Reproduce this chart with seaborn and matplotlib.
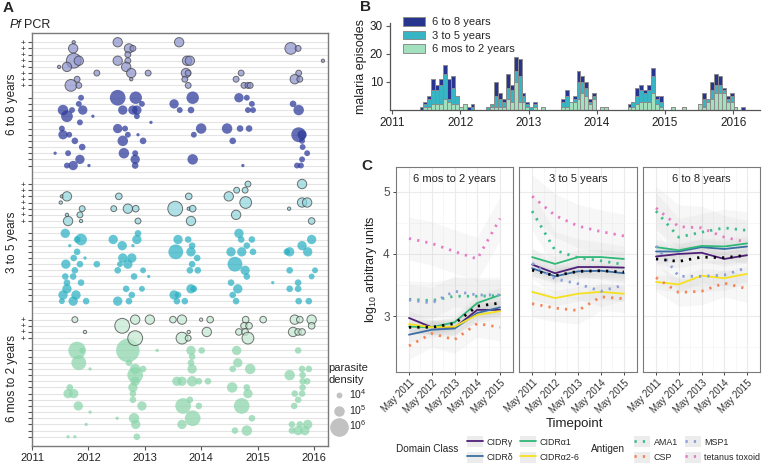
import numpy as np
import pandas as pd
import seaborn as sns
import matplotlib
matplotlib.use("Agg")
import matplotlib.pyplot as plt
from matplotlib.lines import Line2D
from matplotlib.patches import Patch
from matplotlib.transforms import blended_transform_factory

sns.set_style("white")
plt.rcParams['font.family'] = ['Liberation Sans', 'DejaVu Sans']
plt.rcParams['mathtext.default'] = 'regular'

# ---------------- Panel A data: (time, subject row, log10 parasite density) ----------------
old_points = [
    (2011.74, 0, 3.0), (2012.52, 0, 4.8), (2013.61, 0, 4.8),
    (2011.73, 1, 4.8), (2012.72, 1, 4.8), (2012.79, 1, 4.0), (2015.59, 1, 5.2), (2015.72, 1, 4.0),
    (2012.70, 2, 4.0),
    (2011.74, 3, 5.6), (2011.83, 3, 4.8), (2012.52, 3, 4.8), (2012.70, 3, 4.0), (2013.75, 3, 4.8),
    (2013.80, 3, 4.8), (2016.16, 3, 3.0),
    (2011.48, 4, 3.0), (2011.62, 4, 4.8), (2012.67, 4, 4.8),
    (2012.15, 5, 4.0), (2012.76, 5, 4.8), (2013.06, 5, 4.0), (2013.73, 5, 4.8), (2013.77, 5, 4.0),
    (2014.71, 5, 4.0), (2015.73, 5, 4.0),
    (2011.80, 6, 4.0), (2012.76, 6, 3.0), (2013.71, 6, 4.0), (2014.62, 6, 4.0), (2015.66, 6, 4.8),
    (2015.75, 6, 4.0),
    (2011.69, 7, 5.2), (2011.83, 7, 4.0), (2013.77, 7, 4.0), (2014.76, 7, 4.0), (2014.83, 7, 4.0),
    (2014.87, 7, 4.0),
    (2011.87, 9, 4.0), (2012.52, 9, 5.7), (2012.84, 9, 5.3), (2013.85, 9, 5.3), (2014.67, 9, 4.8),
    (2014.81, 9, 4.0),
    (2014.90, 10, 4.0), (2011.83, 10, 4.0), (2012.95, 10, 4.0), (2013.52, 10, 4.8), (2015.63, 10, 4.2),
    (2011.55, 11, 5.0), (2011.71, 11, 4.0), (2011.90, 11, 4.8), (2012.61, 11, 4.8), (2012.79, 11, 4.8),
    (2012.86, 11, 4.8), (2013.62, 11, 4.0), (2013.82, 11, 4.2), (2014.83, 11, 4.0), (2014.92, 11, 4.0),
    (2015.73, 11, 5.0),
    (2011.62, 12, 5.2), (2012.08, 12, 3.0), (2012.86, 12, 4.0),
    (2011.85, 13, 4.0), (2013.11, 13, 3.0),
    (2011.53, 14, 4.0), (2012.52, 14, 4.8), (2012.65, 14, 4.0), (2014.00, 14, 5.0), (2014.46, 14, 5.0),
    (2014.69, 14, 4.2), (2014.85, 14, 4.2),
    (2011.55, 15, 4.8), (2011.66, 15, 4.0), (2012.70, 15, 4.0), (2012.88, 15, 3.0), (2013.87, 15, 4.0),
    (2015.73, 15, 5.6), (2015.79, 15, 4.8),
    (2011.76, 16, 4.2), (2012.61, 16, 5.0), (2012.97, 16, 4.2), (2014.56, 16, 4.2), (2015.79, 16, 4.0),
    (2011.89, 17, 4.2), (2015.80, 17, 4.0),
    (2011.41, 18, 3.0), (2011.64, 18, 4.0), (2012.63, 18, 5.0), (2012.83, 18, 4.0), (2015.88, 18, 4.0),
    (2011.85, 19, 4.8), (2012.83, 19, 4.8), (2013.85, 19, 5.0), (2015.79, 19, 4.0),
    (2011.62, 20, 4.0), (2011.73, 20, 4.8), (2012.01, 20, 3.0), (2012.83, 20, 4.2), (2014.74, 20, 3.0),
    (2015.70, 20, 4.0), (2015.77, 20, 4.0),
]

mid_points = [
    (2014.83, 23, 4.0), (2015.79, 23, 4.8),
    (2014.63, 24, 4.0), (2014.78, 24, 4.0),
    (2011.53, 25, 3.0), (2011.62, 25, 4.8), (2012.54, 25, 4.2), (2013.78, 25, 4.2), (2014.49, 25, 4.8),
    (2011.51, 26, 3.0), (2014.79, 26, 5.2), (2015.79, 26, 4.8), (2015.88, 26, 4.8),
    (2011.89, 27, 4.0), (2012.45, 27, 4.0), (2012.70, 27, 4.8), (2012.84, 27, 4.2), (2013.54, 27, 5.6),
    (2013.78, 27, 3.0), (2013.85, 27, 4.2), (2015.56, 27, 3.0),
    (2011.62, 28, 3.0), (2011.85, 28, 4.0), (2014.62, 28, 4.8),
    (2011.64, 29, 4.8), (2011.87, 29, 3.0), (2012.88, 29, 4.0), (2013.82, 29, 4.8), (2015.96, 29, 4.2),
    (2011.59, 31, 4.8), (2012.88, 31, 4.2), (2014.67, 31, 4.8),
    (2011.87, 32, 5.2), (2011.80, 32, 4.2), (2012.44, 32, 4.8), (2012.86, 32, 4.8), (2013.59, 32, 4.8),
    (2013.77, 32, 4.2), (2014.71, 32, 4.2), (2014.90, 32, 4.2), (2015.96, 32, 4.8),
    (2011.67, 33, 3.0), (2012.60, 33, 4.8), (2012.79, 33, 3.0), (2013.84, 33, 4.2), (2014.81, 33, 4.2),
    (2015.79, 33, 4.8),
    (2011.80, 34, 4.2), (2013.55, 34, 5.6), (2013.82, 34, 4.8), (2014.53, 34, 4.8), (2014.72, 34, 4.8),
    (2014.92, 34, 4.2), (2015.57, 34, 4.8), (2015.89, 34, 4.8), (2015.52, 34, 4.2),
    (2011.74, 35, 4.2), (2011.94, 35, 3.0), (2012.61, 35, 4.8), (2012.77, 35, 4.8), (2013.93, 35, 4.2),
    (2011.60, 36, 4.8), (2011.85, 36, 4.2), (2012.15, 36, 4.2), (2012.56, 36, 4.0), (2012.70, 36, 4.8),
    (2013.84, 36, 4.2), (2014.60, 36, 5.6),
    (2011.76, 37, 4.2), (2012.52, 37, 4.2), (2012.97, 37, 4.0), (2013.80, 37, 4.2), (2013.94, 37, 4.2),
    (2014.78, 37, 4.8), (2015.57, 37, 4.2), (2016.02, 37, 4.0),
    (2011.59, 38, 4.2), (2011.73, 38, 4.2), (2012.81, 38, 4.2), (2013.07, 38, 3.0), (2014.81, 38, 4.2),
    (2015.96, 38, 4.0),
    (2011.62, 39, 4.2), (2011.87, 39, 4.2), (2014.53, 39, 4.2), (2015.27, 39, 3.0), (2015.72, 39, 4.2),
    (2011.62, 40, 4.8), (2012.67, 40, 4.2), (2012.95, 40, 4.0), (2013.82, 40, 4.8), (2013.87, 40, 4.2),
    (2014.65, 40, 4.8), (2015.57, 40, 4.2), (2015.72, 40, 4.2),
    (2011.55, 41, 4.8), (2011.78, 41, 4.8), (2012.77, 41, 4.2), (2013.52, 41, 4.8), (2013.59, 41, 4.2),
    (2014.56, 41, 4.2),
    (2011.53, 42, 4.0), (2011.73, 42, 4.8), (2011.96, 42, 4.2), (2012.52, 42, 4.8), (2012.72, 42, 4.2),
    (2013.57, 42, 4.2), (2013.71, 42, 4.2), (2014.62, 42, 4.2), (2015.73, 42, 4.2), (2015.91, 42, 4.2),
]

young_points = [
    (2011.76, 45, 4.0), (2012.83, 45, 4.8), (2013.09, 45, 4.8), (2013.50, 45, 4.2), (2013.66, 45, 4.8),
    (2014.00, 45, 3.0), (2014.16, 45, 4.2), (2014.79, 45, 4.2), (2015.10, 45, 4.2), (2015.66, 45, 4.8),
    (2015.75, 45, 4.2), (2015.96, 45, 4.8),
    (2012.60, 46, 5.6), (2014.76, 46, 4.2), (2014.85, 46, 4.2), (2015.96, 46, 4.2),
    (2011.94, 47, 3.0), (2013.78, 47, 3.0), (2014.10, 47, 4.8), (2014.67, 47, 4.2), (2014.78, 47, 4.2),
    (2015.63, 47, 4.8), (2015.72, 47, 4.2), (2015.79, 47, 4.2),
    (2012.83, 48, 5.6), (2013.66, 48, 5.2), (2013.77, 48, 4.0), (2014.83, 48, 5.2),
    (2011.80, 50, 5.9), (2011.89, 50, 4.0), (2012.70, 50, 6.4), (2013.22, 50, 3.0), (2013.82, 50, 4.8),
    (2014.01, 50, 4.2), (2014.63, 50, 4.8), (2015.72, 50, 4.2),
    (2013.84, 51, 4.2),
    (2011.83, 52, 5.6), (2012.72, 52, 4.2), (2013.82, 52, 4.2), (2014.65, 52, 4.8),
    (2012.03, 53, 3.0), (2012.83, 53, 5.0), (2012.97, 53, 4.2), (2013.84, 53, 4.8), (2014.56, 53, 4.2),
    (2014.87, 53, 5.0), (2015.79, 53, 4.2), (2015.91, 53, 4.2),
    (2012.83, 54, 5.7), (2015.57, 54, 5.0), (2015.80, 54, 4.2),
    (2012.83, 55, 4.8), (2013.57, 55, 4.8), (2013.66, 55, 4.8), (2013.84, 55, 5.0), (2013.96, 55, 4.2),
    (2014.12, 55, 4.2), (2015.80, 55, 4.2), (2015.88, 55, 4.2),
    (2011.67, 56, 4.2), (2012.79, 56, 4.8), (2014.55, 56, 5.0), (2014.81, 56, 4.2), (2015.80, 56, 4.2),
    (2011.64, 57, 4.8), (2011.74, 57, 4.8), (2012.79, 57, 4.2), (2014.83, 57, 4.8), (2015.66, 57, 4.2),
    (2015.79, 57, 4.2),
    (2012.79, 58, 4.2), (2013.80, 58, 4.2), (2015.72, 58, 4.2),
    (2011.82, 59, 4.8), (2012.95, 59, 4.8), (2013.68, 59, 5.7), (2013.96, 59, 4.2), (2014.72, 59, 5.7),
    (2015.65, 59, 4.2),
    (2012.03, 60, 3.0),
    (2012.51, 61, 3.0), (2012.81, 61, 5.0), (2013.85, 61, 5.7), (2014.90, 61, 4.2),
    (2011.96, 62, 3.0), (2012.84, 62, 4.8), (2013.66, 62, 4.8), (2015.61, 62, 4.2), (2015.75, 62, 4.2),
    (2015.89, 62, 4.8),
    (2014.60, 63, 4.2), (2014.81, 63, 5.0), (2015.61, 63, 4.2), (2015.72, 63, 4.8), (2015.84, 63, 4.8),
    (2011.64, 64, 3.0), (2011.76, 64, 3.0), (2012.86, 64, 4.2),
]

pcr_pos_rows = list(range(0, 8)) + list(range(23, 30)) + list(range(45, 49))
pcr_neg_rows = list(range(9, 21)) + list(range(31, 43)) + list(range(50, 65))
group_labels = ["6 to 8 years", "3 to 5 years", "6 mos to 2 years"]
group_centers = [10, 32.5, 54.5]
year_ticks = [2011, 2012, 2013, 2014, 2015, 2016]
density_levels = [4, 5, 6]
density_labels = ["10$^{4}$", "10$^{5}$", "10$^{6}$"]

# ---------------- Panel B data: 21-day bins, counts by age group ----------------
BIN = 21 / 365.25
N_BINS = 96
b_bin = [7, 8, 9, 10, 11, 12, 13, 14, 15, 16, 17, 18, 19, 20,
         24, 25, 26, 27, 28, 29, 30, 31, 32, 33, 34, 35, 36, 38,
         43, 44, 45, 46, 47, 48, 49, 50, 51, 53, 54,
         60, 61, 62, 63, 64, 65, 66, 67, 68, 71, 74,
         78, 79, 80, 81, 82, 83, 84, 85, 86, 87, 89]
b_young = [0, 1, 1, 2, 2, 2, 4, 3, 2, 2, 1, 2, 0, 0,
           0, 1, 1, 1, 1, 4, 3, 10, 3, 3, 1, 0, 1, 1,
           1, 1, 3, 3, 4, 6, 5, 2, 4, 1, 1,
           1, 1, 2, 3, 3, 3, 6, 2, 1, 1, 1,
           2, 1, 3, 4, 6, 6, 6, 3, 3, 1, 0]
b_mid = [0, 1, 3, 5, 5, 7, 9, 1, 6, 3, 0, 0, 0, 1,
         1, 1, 4, 3, 2, 4, 4, 4, 9, 2, 1, 1, 1, 0,
         2, 4, 0, 1, 6, 4, 3, 1, 1, 0, 0,
         0, 2, 3, 4, 3, 4, 6, 2, 2, 0, 0,
         0, 3, 1, 3, 3, 3, 1, 1, 2, 0, 0]
b_old = [1, 1, 1, 4, 2, 2, 3, 7, 4, 0, 0, 0, 1, 1,
         0, 0, 5, 2, 1, 5, 2, 5, 6, 1, 1, 0, 1, 0,
         1, 2, 0, 1, 4, 2, 2, 1, 1, 0, 0,
         1, 0, 3, 2, 1, 2, 3, 1, 2, 0, 0,
         0, 2, 0, 3, 4, 3, 1, 1, 1, 0, 1]

# ---------------- Panel C data ----------------
timepoints = ["May 2011", "May 2012", "May 2013", "May 2014", "May 2015"]
facets = ["6 mos to 2 years", "3 to 5 years", "6 to 8 years"]
cidr_gamma = [[2.97, 2.82, 2.81, 3.10, 3.10], [3.83, 3.69, 3.79, 3.79, 3.78], [3.96, 4.00, 4.02, 3.92, 3.98]]
cidr_delta = [[2.70, 2.78, 2.80, 3.05, 3.14], [3.77, 3.64, 3.72, 3.73, 3.69], [4.04, 4.04, 4.11, 4.08, 4.12]]
cidr_a1 = [[2.83, 2.82, 2.90, 3.21, 3.34], [3.95, 3.84, 3.95, 3.95, 3.92], [4.11, 4.06, 4.13, 4.12, 4.17]]
cidr_a26 = [[2.87, 2.82, 2.83, 3.02, 3.08], [3.39, 3.29, 3.36, 3.39, 3.36], [3.55, 3.51, 3.65, 3.61, 3.68]]
overall = [[2.82, 2.82, 2.88, 3.16, 3.21], [3.74, 3.65, 3.72, 3.73, 3.71], [3.92, 3.88, 3.95, 3.94, 3.98]]
ama1 = [[3.27, 3.25, 3.32, 3.32, 3.33], [4.69, 4.06, 3.94, 3.89, 3.83], [4.69, 4.27, 4.35, 4.42, 4.38]]
csp = [[2.52, 2.72, 2.62, 2.88, 2.82], [3.20, 3.13, 3.09, 3.31, 3.28], [3.62, 3.38, 3.40, 3.53, 3.44]]
msp1 = [[3.26, 3.21, 3.40, 3.34, 3.34], [3.85, 3.60, 3.52, 3.40, 3.50], [4.13, 3.64, 3.64, 3.66, 3.78]]
tetanus = [[4.25, 4.17, 4.04, 3.92, 4.57], [4.93, 4.62, 4.45, 4.36, 4.29], [4.74, 4.44, 4.42, 4.27, 4.19]]
# half-width of the grey confidence ribbons
ribbon_hw = {"CIDRγ": 0.12, "CIDRδ": 0.12, "CIDRα1": 0.12, "CIDRα2-6": 0.12, "all": 0.10,
             "AMA1": 0.30, "CSP": 0.22, "MSP1": 0.25, "tetanus toxoid": 0.35}

# ---------------- figure ----------------
W, H = 764, 467
fig = plt.figure(figsize=(W / 100, H / 100), dpi=100)


def ax_px(l, t, r, b):
    return fig.add_axes([l / W, 1 - b / H, (r - l) / W, (b - t) / H])


TXT = "#222222"
GRID = "#e4e4e4"

# ================= Panel A =================
axA = ax_px(32, 33, 328, 446)
K_AREA = 0.18          # pt^2 per unit of sqrt(density)
VMAX = 10 ** 3.5
SMAX = K_AREA * VMAX

neg_cols = {"old": "#2b3899", "mid": "#2bb0c2", "young": "#8ad5aa"}
pos_cols = {"old": "#8a91cc", "mid": "#8fd5dd", "young": "#c3e9d2"}

for key, pts in [("old", old_points), ("mid", mid_points), ("young", young_points)]:
    df = pd.DataFrame(pts, columns=["t", "row", "logd"])
    df["v"] = 10 ** (df["logd"] / 2)
    df["pos"] = df["row"].isin(pcr_pos_rows)
    neg = df[~df["pos"]]
    pos = df[df["pos"]]
    sns.scatterplot(data=neg, x="t", y="row", size="v", sizes=(0, SMAX), size_norm=(0, VMAX),
                    color=neg_cols[key], edgecolor="none", linewidth=0, alpha=0.72,
                    legend=False, ax=axA, zorder=3)
    sns.scatterplot(data=pos, x="t", y="row", size="v", sizes=(0, SMAX), size_norm=(0, VMAX),
                    color=pos_cols[key], edgecolor="#3a3a3a", linewidth=0.7, alpha=0.7,
                    legend=False, ax=axA, zorder=3)

all_rows = sorted(pcr_pos_rows + pcr_neg_rows)
gap_rows = [r for r in range(0, 65) if r not in all_rows]
axA.set_yticks(all_rows)
axA.set_yticklabels(["+" if r in pcr_pos_rows else "" for r in all_rows])
axA.set_yticks(gap_rows, minor=True)
axA.set_ylim(65.5, -1.5)
axA.set_xlim(2011, 2016.25)
axA.set_xticks(year_ticks)
axA.set_xticklabels([str(y) for y in year_ticks])
axA.grid(axis="y", which="both", color=GRID, lw=0.8)
axA.set_axisbelow(True)
axA.tick_params(axis="y", which="major", length=3, width=0.8, color="#555555", labelsize=6,
                pad=1.5, labelcolor=TXT, left=True)
axA.tick_params(axis="y", which="minor", length=0)
axA.tick_params(axis="x", length=3, width=0.8, color="#555555", labelsize=8, labelcolor=TXT,
                pad=2, bottom=True)
axA.set_xlabel("")
axA.set_ylabel("")
for s in axA.spines.values():
    s.set_color("#7a7a7a")
    s.set_linewidth(1.0)
trA = blended_transform_factory(axA.transAxes, axA.transData)
for lab, c in zip(group_labels, group_centers):
    axA.text(-0.068, c, lab, transform=trA, rotation=90, ha="center", va="center",
             fontsize=8.5, color=TXT)

fig.text(3 / W, 1 - 8 / H, "A", fontsize=11, fontweight="bold", va="center", ha="left")
fig.text(10 / W, 1 - 25 / H, "Pf", fontsize=9, fontstyle="italic", va="center", ha="left", color=TXT)
fig.text(24 / W, 1 - 25 / H, "PCR", fontsize=9, va="center", ha="left", color=TXT)

# parasite density legend
dens_handles = [Line2D([], [], marker="o", ls="none", markersize=np.sqrt(K_AREA * 10 ** (L / 2)),
                       markerfacecolor="#c2c2c2", markeredgecolor="none") for L in density_levels]
fig.legend(dens_handles, density_labels, title="parasite\ndensity", loc="upper left",
           bbox_to_anchor=(323 / W, 1 - 358 / H), frameon=False, fontsize=7.5, title_fontsize=8,
           handletextpad=0.1, labelspacing=0.2, borderpad=0, handlelength=1.8)

# ================= Panel B =================
axB = ax_px(390, 23, 760, 110)
b_rows = []
for k, y_, m_, o_ in zip(b_bin, b_young, b_mid, b_old):
    centre = 2011 + (k + 0.5) * BIN
    b_rows.append((centre, "6 to 8 years", o_))
    b_rows.append((centre, "3 to 5 years", m_))
    b_rows.append((centre, "6 mos to 2 years", y_))
b_df = pd.DataFrame(b_rows, columns=["t", "age", "n"])
age_order = ["6 to 8 years", "3 to 5 years", "6 mos to 2 years"]
age_pal = {"6 to 8 years": "#27358f", "3 to 5 years": "#38b5c5", "6 mos to 2 years": "#a3e0bd"}
sns.histplot(data=b_df, x="t", weights="n", hue="age", hue_order=age_order, multiple="stack",
             binwidth=BIN, binrange=(2011.0, 2011.0 + N_BINS * BIN), palette=age_pal,
             edgecolor="#8c8c8c", linewidth=0.7, alpha=1, ax=axB)
axB.set_xlim(2010.97, 2016.39)
axB.set_ylim(0, 31)
axB.set_yticks([10, 20, 30])
axB.set_xticks(year_ticks)
axB.set_xlabel("")
axB.set_ylabel("malaria episodes", fontsize=9, color=TXT, labelpad=2)
axB.tick_params(length=3, width=0.8, color="#555555", labelsize=8.5, labelcolor=TXT, pad=2,
                left=True, bottom=True)
for side in ["top", "right"]:
    axB.spines[side].set_visible(False)
for side in ["left", "bottom"]:
    axB.spines[side].set_color("#555555")
    axB.spines[side].set_linewidth(0.9)
sns.move_legend(axB, "upper left", bbox_to_anchor=(0.02, 1.13), frameon=False, title=None,
                fontsize=8, handlelength=2.0, handleheight=0.8, labelspacing=0.3,
                handletextpad=0.6, borderpad=0)
fig.text(360 / W, 1 - 7 / H, "B", fontsize=11, fontweight="bold", va="center", ha="left")

# ================= Panel C =================
solid_series = {"CIDRγ": cidr_gamma, "CIDRδ": cidr_delta, "CIDRα1": cidr_a1, "CIDRα2-6": cidr_a26}
dot_series = {"AMA1": ama1, "CSP": csp, "MSP1": msp1, "tetanus toxoid": tetanus, "all": overall}
pal = {"CIDRγ": "#4f2078", "CIDRδ": "#3a6ea5", "CIDRα1": "#2fb877", "CIDRα2-6": "#f5e11e",
       "AMA1": "#3dbd8a", "CSP": "#f48356", "MSP1": "#8b9fd8", "tetanus toxoid": "#e57ac6",
       "all": "#000000"}

rows_c = []
for name, vals in {**solid_series, **dot_series}.items():
    for fi, f in enumerate(facets):
        for ti in range(5):
            rows_c.append((f, name, ti, vals[fi][ti], "solid" if name in solid_series else "dot"))
c_df = pd.DataFrame(rows_c, columns=["facet", "series", "t", "value", "kind"])

c_boxes = [(396, 513), (519, 637), (643, 760)]
axes_c = []
for fi, (f, (l, r)) in enumerate(zip(facets, c_boxes)):
    ax = ax_px(l, 167, r, 372)
    axes_c.append(ax)
    sub = c_df[c_df["facet"] == f]
    for name in ["tetanus toxoid", "AMA1", "MSP1", "CSP", "CIDRγ", "CIDRδ", "CIDRα1", "CIDRα2-6", "all"]:
        s = sub[sub["series"] == name]
        h = ribbon_hw[name]
        ax.fill_between(s["t"], s["value"] - h, s["value"] + h, color="#9a9a9a", alpha=0.07, lw=0,
                        zorder=1)
    sol = sub[sub["kind"] == "solid"]
    sns.lineplot(data=sol, x="t", y="value", hue="series", palette=pal, linewidth=1.3,
                 legend=False, ax=ax, errorbar=None, zorder=3)
    n_before = len(ax.lines)
    dot = sub[sub["kind"] == "dot"]
    sns.lineplot(data=dot, x="t", y="value", hue="series", palette=pal, linewidth=2.0,
                 legend=False, ax=ax, errorbar=None, zorder=4)
    for ln in ax.lines[n_before:]:
        ln.set_dashes((0.8, 2.2))
        ln.set_dash_capstyle("butt")
    ax.set_xlim(-0.57, 4.57)
    ax.set_ylim(2.10, 5.40)
    ax.set_xticks(range(5))
    ax.set_xticks([0.5, 1.5, 2.5, 3.5], minor=True)
    ax.set_yticks([3, 4, 5])
    ax.set_yticks([2.5, 3.5, 4.5], minor=True)
    ax.grid(which="major", color="#ebebeb", lw=0.8)
    ax.grid(which="minor", color="#f4f4f4", lw=0.5)
    ax.set_axisbelow(True)
    ax.set_xticklabels(timepoints, rotation=45, ha="right", rotation_mode="anchor", fontsize=7,
                       color="#333333")
    ax.tick_params(axis="x", which="major", length=2.5, width=0.7, color="#444444", pad=1.5,
                   bottom=True)
    ax.tick_params(which="minor", length=0)
    if fi == 0:
        ax.set_yticklabels(["3", "4", "5"], fontsize=8.5, color="#4d4d4d")
        ax.tick_params(axis="y", which="major", length=2.5, width=0.7, color="#444444", pad=2,
                       left=True)
        ax.set_ylabel("log$_{10}$ arbitrary units", fontsize=9, color=TXT, labelpad=3)
    else:
        ax.set_yticklabels([])
        ax.tick_params(axis="y", length=0)
        ax.set_ylabel("")
    ax.set_xlabel("")
    for s_ in ax.spines.values():
        s_.set_color("#7a7a7a")
        s_.set_linewidth(0.8)
    ax.text(0.5, 0.94, f, transform=ax.transAxes, ha="center", va="center", fontsize=8,
            color=TXT, zorder=6)

fig.text(575 / W, 1 - 424 / H, "Timepoint", ha="center", va="center", fontsize=9.5, color=TXT)
fig.text(361 / W, 1 - 166 / H, "C", fontsize=11, fontweight="bold", va="center", ha="left")

# bottom legends
key_bg = "#ececec"


def key(color, dotted):
    bg = Patch(facecolor=key_bg, edgecolor="none")
    if dotted:
        ln = Line2D([], [], color=color, lw=2.0, dashes=(0.8, 2.2))
    else:
        ln = Line2D([], [], color=color, lw=1.3)
    return (bg, ln)


dom_names = ["CIDRγ", "CIDRδ", "CIDRα1", "CIDRα2-6"]
ant_names = ["AMA1", "CSP", "MSP1", "tetanus toxoid"]
leg_kw = dict(loc="center left", ncol=2, frameon=False, fontsize=6.4, handlelength=1.8,
              handleheight=1.5, labelspacing=0.5, handletextpad=0.35, columnspacing=0.8,
              borderpad=0)
fig.legend([key(pal[n], False) for n in dom_names], dom_names,
           bbox_to_anchor=(463 / W, 1 - 449.5 / H), **leg_kw)
fig.legend([key(pal[n], True) for n in ant_names], ant_names,
           bbox_to_anchor=(630 / W, 1 - 449.5 / H), **leg_kw)
fig.text(396 / W, 1 - 449.5 / H, "Domain Class", fontsize=7.2, va="center", ha="left", color=TXT)
fig.text(591 / W, 1 - 449.5 / H, "Antigen", fontsize=7.2, va="center", ha="left", color=TXT)

fig.savefig("out.png", dpi=100)
